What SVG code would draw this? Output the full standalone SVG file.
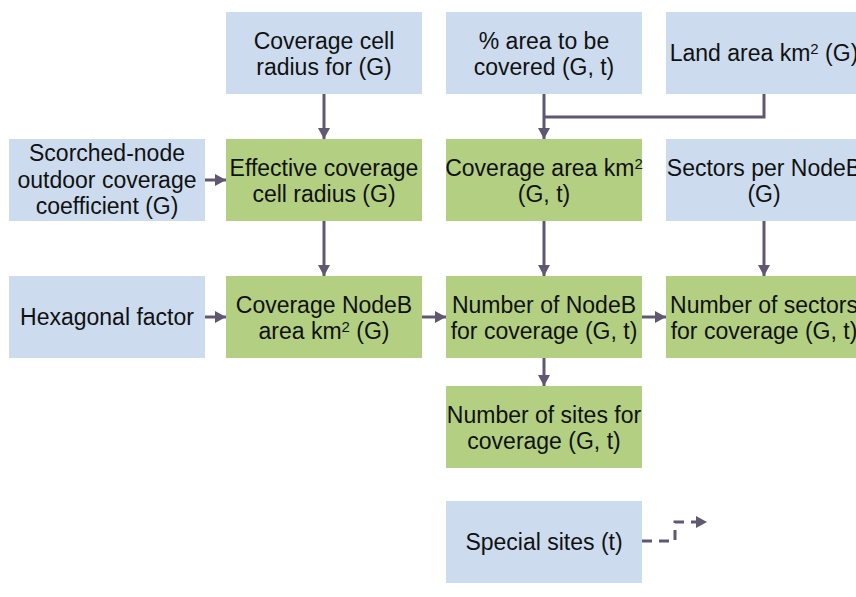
<svg xmlns="http://www.w3.org/2000/svg" width="856" height="597" viewBox="0 0 856 597">
<style>
.in{fill:#CCDCEE}
.calc{fill:#B3CF82}
text{font-family:"Liberation Sans",Arial,sans-serif;font-size:23px;fill:#111;text-anchor:middle}
.sup{font-size:15px}
.c{fill:none;stroke:#605770;stroke-width:3}
.d{stroke-dasharray:10 7}
</style>
<defs>
<marker id="ah" markerUnits="userSpaceOnUse" markerWidth="12" markerHeight="12" refX="11" refY="6" orient="auto" viewBox="0 0 12 12">
<path d="M0,0 L11,6 L0,12 z" fill="#605770"/>
</marker>
</defs>
<rect width="856" height="597" fill="#fff"/>
<g id="n-cov-cell-radius"><rect class="in" x="226" y="12" width="196" height="82"/><text x="324" y="49">Coverage cell</text><text x="324" y="75">radius for (G)</text></g>
<g id="n-pct-area"><rect class="in" x="446" y="12" width="196" height="82"/><text x="544" y="49">% area to be</text><text x="544" y="75">covered (G, t)</text></g>
<g id="n-land-area"><rect class="in" x="666" y="12" width="196" height="82"/><text x="764" y="61">Land area km<tspan class="sup" dy="-7">2</tspan><tspan dy="7"> (G)</tspan></text></g>
<g id="n-scorched"><rect class="in" x="9" y="139" width="196" height="82"/><text x="107" y="161">Scorched-node</text><text x="107" y="188">outdoor coverage</text><text x="107" y="214">coefficient (G)</text></g>
<g id="n-eff-radius"><rect class="calc" x="226" y="139" width="196" height="82"/><text x="324" y="176">Effective coverage</text><text x="324" y="202">cell radius (G)</text></g>
<g id="n-cov-area"><rect class="calc" x="446" y="139" width="196" height="82"/><text x="544" y="176">Coverage area km<tspan class="sup" dy="-7">2</tspan></text><text x="544" y="202">(G, t)</text></g>
<g id="n-sectors-per"><rect class="in" x="666" y="139" width="196" height="82"/><text x="764" y="176">Sectors per NodeB</text><text x="764" y="202">(G)</text></g>
<g id="n-hex"><rect class="in" x="9" y="276" width="196" height="82"/><text x="107" y="325">Hexagonal factor</text></g>
<g id="n-nodeb-area"><rect class="calc" x="226" y="276" width="196" height="82"/><text x="324" y="313">Coverage NodeB</text><text x="324" y="339">area km<tspan class="sup" dy="-7">2</tspan><tspan dy="7"> (G)</tspan></text></g>
<g id="n-num-nodeb"><rect class="calc" x="446" y="276" width="196" height="82"/><text x="544" y="313">Number of NodeB</text><text x="544" y="339">for coverage (G, t)</text></g>
<g id="n-num-sectors"><rect class="calc" x="666" y="276" width="196" height="82"/><text x="764" y="313">Number of sectors</text><text x="764" y="339">for coverage (G, t)</text></g>
<g id="n-num-sites"><rect class="calc" x="446" y="386" width="196" height="82"/><text x="544" y="423">Number of sites for</text><text x="544" y="449">coverage (G, t)</text></g>
<g id="n-special"><rect class="in" x="446" y="501" width="196" height="82"/><text x="544" y="550">Special sites (t)</text></g>
<g id="connectors">
<path class="c" d="M324,94 V139" marker-end="url(#ah)"/>
<path class="c" d="M205,180 H226" marker-end="url(#ah)"/>
<path class="c" d="M324,221 V276" marker-end="url(#ah)"/>
<path class="c" d="M205,317 H226" marker-end="url(#ah)"/>
<path class="c" d="M422,317 H446" marker-end="url(#ah)"/>
<path class="c" d="M544,94 V139" marker-end="url(#ah)"/>
<path class="c" d="M764,94 V117 H544"/>
<path class="c" d="M544,221 V276" marker-end="url(#ah)"/>
<path class="c" d="M764,221 V276" marker-end="url(#ah)"/>
<path class="c" d="M642,317 H666" marker-end="url(#ah)"/>
<path class="c" d="M544,358 V386" marker-end="url(#ah)"/>
<path class="c d" d="M642,541 H675 V522 H707" marker-end="url(#ah)"/>
</g>
</svg>
